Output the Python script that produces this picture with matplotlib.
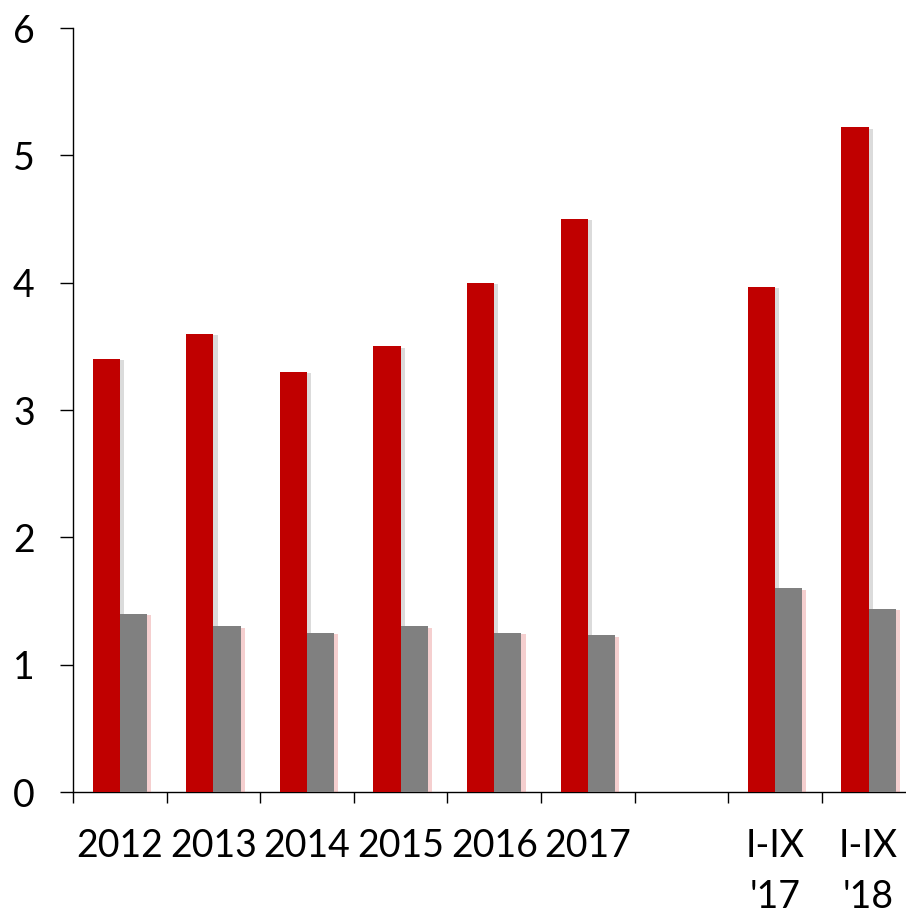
import matplotlib
matplotlib.use('Agg')
import matplotlib.pyplot as plt
import matplotlib.patheffects as pe
import numpy as np

plt.rcParams['font.family'] = ['Lato', 'DejaVu Sans']

categories = ["2012", "2013", "2014", "2015", "2016", "2017", "", "I-IX\n'17", "I-IX\n'18"]
red_values = [3.40, 3.60, 3.30, 3.50, 4.00, 4.50, 0, 3.97, 5.22]
gray_values = [1.40, 1.30, 1.25, 1.30, 1.25, 1.23, 0, 1.60, 1.44]

fig = plt.figure(figsize=(9.06, 9.13), dpi=100)
ax = fig.add_axes([0.0806, 0.1325, 0.9194, 0.8368])

x = np.arange(len(categories))
w = 0.29
red = ax.bar(x - w / 2, red_values, w, color='#c00000', zorder=3)
gray = ax.bar(x + w / 2, gray_values, w, color='#808080', zorder=3)
for r in red:
    r.set_path_effects([pe.SimplePatchShadow(offset=(3, -1), shadow_rgbFace='#888888', alpha=0.3), pe.Normal()])
for g in gray:
    g.set_path_effects([pe.SimplePatchShadow(offset=(3, -1), shadow_rgbFace='#e06060', alpha=0.3), pe.Normal()])

ax.set_ylim(0, 6)
ax.set_xlim(-0.5, 8.40)
ax.set_yticks(range(0, 7))
ax.tick_params(axis='y', labelsize=27, length=9.5, width=1, pad=18)

# boundary ticks, labels centred on categories
ax.set_xticks(np.arange(-0.5, 8.4, 1))
ax.set_xticklabels([])
ax.tick_params(axis='x', which='major', length=8, width=1)
ax.set_xticks(x, minor=True)
ax.set_xticklabels(categories, minor=True, fontsize=27, linespacing=1.5, va='top')
ax.tick_params(axis='x', which='minor', length=0, pad=26)

for s in ['top', 'right']:
    ax.spines[s].set_visible(False)
for s in ['left', 'bottom']:
    ax.spines[s].set_linewidth(1)

plt.savefig("out.png", dpi=100)
